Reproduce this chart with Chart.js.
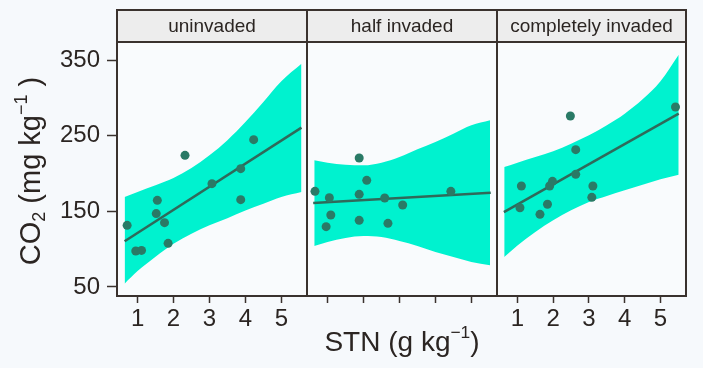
<!DOCTYPE html>
<html>
<head>
<meta charset="utf-8">
<script src="https://cdn.jsdelivr.net/npm/chart.js@4/dist/chart.umd.min.js"></script>
<style>
  body { margin: 0; background: #f6f9fc; }
  #wrap { position: relative; width: 703px; height: 368px; background: #f6f9fc; font-family: "Liberation Sans", Arial, sans-serif; color: #2b2522; }
  canvas { position: absolute; left: 0; top: 0; }
  .sup, .sub { font-size: 0.62em; line-height: 0; position: relative; }
  .sup { top: -0.75em; }
  .sub { top: 0.3em; }
  #ytitle { position: absolute; width: 260px; left: -100.5px; top: 156px; height: 30px; line-height: 30px; font-size: 29px; text-align: center; transform: rotate(-90deg); white-space: nowrap; }
  #xtitle { position: absolute; width: 260px; left: 272px; top: 325px; height: 34px; line-height: 34px; font-size: 28px; text-align: center; white-space: nowrap; }
</style>
</head>
<body>
<div id="wrap">
  <canvas id="c1" width="703" height="368"></canvas>
  <canvas id="c2" width="703" height="368"></canvas>
  <canvas id="c3" width="703" height="368"></canvas>
  <div id="ytitle">CO<span class="sub">2</span> (mg kg<span class="sup">−1</span> )</div>
  <div id="xtitle">STN (g kg<span class="sup">−1</span>)</div>
</div>
<script>
const stnTicks = [1, 2, 3, 4, 5];
const co2Ticks = [50, 150, 250, 350];
const panelNames = ["uninvaded", "half invaded", "completely invaded"];

// observaciones
const uninvadedStn = [0.71, 0.95, 1.11, 1.55, 1.52, 1.75, 1.85, 2.32, 3.07, 3.87, 3.87, 4.23];
const uninvadedCo2 = [131.5, 97.6, 98.4, 164.5, 147, 135, 107.7, 224, 186.6, 206.4, 165.4, 244.7];
const halfStn = [0.65, 1.05, 1.88, 2.09, 1.88, 2.59, 3.09, 1.09, 0.96, 1.88, 2.68, 4.43];
const halfCo2 = [176.4, 168, 220.5, 191, 172.5, 167.6, 158.4, 145.2, 129.7, 138.1, 134.1, 176.4];
const completeStn = [1.11, 1.07, 1.63, 1.84, 1.90, 1.98, 2.48, 2.63, 2.63, 3.11, 3.08, 5.42];
const completeCo2 = [183.5, 154.8, 146, 159.3, 183.5, 189.6, 276, 231.5, 198.9, 183.5, 168.5, 287.9];

// rectas ajustadas
const uninvadedFitStn = [0.64, 5.56];
const uninvadedFitCo2 = [110.4, 260.6];
const halfFitStn = [0.60, 5.54];
const halfFitCo2 = [161, 174.7];
const completeFitStn = [0.62, 5.51];
const completeFitCo2 = [149, 279.1];

// bandas de confianza
const uninvadedBandStn = [0.64, 1, 1.5, 2, 2.5, 3, 3.5, 4, 4.5, 5, 5.56];
const uninvadedUpper = [169, 175.6, 184.4, 194, 207.3, 224, 244, 268, 294.5, 322, 345];
const uninvadedLower = [54.4, 71, 90, 107, 120.5, 131.5, 141, 151, 160, 169, 175.6];
const halfBandStn = [0.63, 1, 1.5, 2, 2.5, 3, 3.5, 4, 4.5, 5, 5.52];
const halfUpper = [217.4, 214.3, 211.7, 210.8, 214.3, 221.8, 232, 241.6, 252.6, 263.7, 270.3];
const halfLower = [104.2, 109.5, 114.8, 117.4, 116.1, 110.8, 104.2, 96.3, 89.6, 83, 78.6];
const completeBandStn = [0.63, 1, 1.5, 2, 2.5, 3, 3.5, 4, 4.5, 5, 5.51];
const completeUpper = [208.6, 214.3, 221.8, 229.3, 239.4, 250.4, 263.7, 279, 298, 321.8, 357];
const completeLower = [89.6, 105, 122.7, 138.1, 151.3, 162.3, 170.3, 177.8, 185.2, 192.3, 198.5];

const oscuro = "#3a322e";
const fuente = "'Liberation Sans', Arial, sans-serif";

function pares(xs, ys) {
  return xs.map((x, i) => ({ x: x, y: ys[i] }));
}

// fondo, marco y cabecera de cada panel
const panelPlugin = {
  id: "panel",
  beforeDraw(chart) {
    const a = chart.chartArea;
    const ctx = chart.ctx;
    ctx.save();
    ctx.fillStyle = "#f9fbfd";
    ctx.fillRect(a.left, a.top, a.right - a.left, a.bottom - a.top);
    ctx.restore();
  },
  afterDraw(chart, args, opts) {
    const a = chart.chartArea;
    const ctx = chart.ctx;
    ctx.save();
    ctx.fillStyle = "#ededed";
    ctx.fillRect(a.left, 10, a.right - a.left, a.top - 10);
    ctx.strokeStyle = oscuro;
    ctx.lineWidth = 2;
    ctx.strokeRect(a.left, 10, a.right - a.left, a.top - 10);
    ctx.strokeRect(a.left, a.top, a.right - a.left, a.bottom - a.top);
    ctx.fillStyle = "#2b2522";
    ctx.font = "19px " + fuente;
    ctx.textAlign = "center";
    ctx.textBaseline = "middle";
    ctx.fillText(opts.label, (a.left + a.right) / 2, (10 + a.top) / 2 + 1);
    ctx.restore();
  }
};

function crearPanel(id, nombre, stn, co2, fitStn, fitCo2, bandStn, upper, lower, izq, der, conEjeY, conEtiquetas) {
  const ctx = document.getElementById(id).getContext("2d");
  return new Chart(ctx, {
    type: "scatter",
    data: {
      datasets: [
        {
          data: pares(stn, co2),
          pointRadius: 4.5,
          pointBackgroundColor: "#2a7a66",
          pointBorderWidth: 0
        },
        {
          data: pares(fitStn, fitCo2),
          showLine: true,
          pointRadius: 0,
          borderColor: "#2f6a5a",
          borderWidth: 2.5
        },
        {
          data: pares(bandStn, upper),
          showLine: true,
          pointRadius: 0,
          borderWidth: 0,
          borderColor: "rgba(0,0,0,0)",
          backgroundColor: "#00f2cf",
          cubicInterpolationMode: "monotone",
          fill: "+1"
        },
        {
          data: pares(bandStn, lower),
          showLine: true,
          pointRadius: 0,
          borderWidth: 0,
          borderColor: "rgba(0,0,0,0)",
          cubicInterpolationMode: "monotone",
          fill: false
        }
      ]
    },
    options: {
      responsive: false,
      animation: false,
      devicePixelRatio: 1,
      layout: { padding: { left: izq, right: der, top: 42, bottom: 0 } },
      plugins: {
        legend: { display: false },
        tooltip: { enabled: false },
        panel: { label: nombre }
      },
      scales: {
        x: {
          type: "linear",
          min: 0.428,
          max: 5.714,
          afterBuildTicks: s => { s.ticks = stnTicks.map(v => ({ value: v })); },
          afterFit: s => { s.height = 72; },
          ticks: {
            font: { family: fuente, size: 24 },
            color: "#2b2522",
            padding: 2,
            maxRotation: 0,
            callback: v => conEtiquetas ? v : ""
          },
          grid: { display: true, drawOnChartArea: false, drawTicks: true, tickLength: 7, tickColor: oscuro, tickWidth: 1.5 },
          border: { display: false }
        },
        y: {
          display: conEjeY,
          min: 38.1,
          max: 373.8,
          afterBuildTicks: s => { s.ticks = co2Ticks.map(v => ({ value: v })); },
          afterFit: s => { s.width = conEjeY ? 117 : 0; },
          ticks: {
            font: { family: fuente, size: 24 },
            color: "#2b2522",
            padding: 7
          },
          grid: { display: true, drawOnChartArea: false, drawTicks: true, tickLength: 10, tickColor: oscuro, tickWidth: 1.5 },
          border: { display: false }
        }
      }
    },
    plugins: [panelPlugin]
  });
}

crearPanel("c1", panelNames[0], uninvadedStn, uninvadedCo2, uninvadedFitStn, uninvadedFitCo2,
  uninvadedBandStn, uninvadedUpper, uninvadedLower, 0, 396, true, true);
crearPanel("c2", panelNames[1], halfStn, halfCo2, halfFitStn, halfFitCo2,
  halfBandStn, halfUpper, halfLower, 307, 206, false, false);
crearPanel("c3", panelNames[2], completeStn, completeCo2, completeFitStn, completeFitCo2,
  completeBandStn, completeUpper, completeLower, 497, 17, false, true);
</script>
</body>
</html>
